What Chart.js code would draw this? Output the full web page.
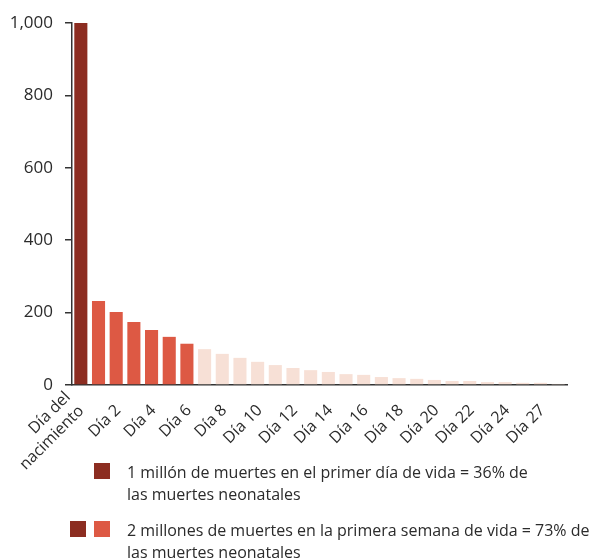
<!DOCTYPE html>
<html>
<head>
<meta charset="utf-8">
<script src="https://cdn.jsdelivr.net/npm/chart.js@4/dist/chart.umd.min.js"></script>
<style>
  html, body { margin: 0; padding: 0; background: #fff; }
  #wrap { position: relative; width: 597px; height: 559px; font-family: "Open Sans", sans-serif; color: #2b2b2b; }
  #c { position: absolute; left: 0; top: 0; }
  .sq { position: absolute; width: 16px; height: 16px; }
  .lt { position: absolute; font-size: 16px; line-height: 22px; white-space: nowrap; }
</style>
</head>
<body>
<div id="wrap">
  <canvas id="c" width="597" height="559"></canvas>
  <div class="sq" style="left:94px;top:463px;background:#8c2d21"></div>
  <div class="lt" style="left:127px;top:461px">1 millón de muertes en el primer día de vida = 36% de<br>las muertes neonatales</div>
  <div class="sq" style="left:70px;top:521px;background:#8c2d21"></div>
  <div class="sq" style="left:94px;top:521px;background:#dd5944"></div>
  <div class="lt" style="left:127px;top:519px">2 millones de muertes en la primera semana de vida = 73% de<br>las muertes neonatales</div>
</div>
<script>
// Categories: day of birth (day 0) through day 27
const categories = ["Día del nacimiento","Día 1","Día 2","Día 3","Día 4","Día 5","Día 6","Día 7","Día 8","Día 9","Día 10","Día 11","Día 12","Día 13","Día 14","Día 15","Día 16","Día 17","Día 18","Día 19","Día 20","Día 21","Día 22","Día 23","Día 24","Día 25","Día 26","Día 27"];
// Neonatal deaths (thousands) per day
const deaths = [1000,232,202,174,152,133,114,99,86,75,64,55,47,41,36,30,28,22,19,17,14,11,11,8,8,6,6,3];
// Group of each bar: 0 = first day, 1 = first week, 2 = rest
const groups = [0,1,1,1,1,1,1,2,2,2,2,2,2,2,2,2,2,2,2,2,2,2,2,2,2,2,2,2];
const groupColors = ["#8c2d21","#dd5944","#f7e0d6"];
// Tick labels as shown on the x axis (one per bar, blank where none)
const tickLabels = [["Día del","nacimiento"],"","Día 2","","Día 4","","Día 6","","Día 8","","Día 10","","Día 12","","Día 14","","Día 16","","Día 18","","Día 20","","Día 22","","Día 24","","Día 27",""];
const yTicks = [0,200,400,600,800,1000];

const axisColor = "#333333";
const textColor = "#2b2b2b";
const xFont = { family: "'Open Sans', sans-serif", size: 16 };
const yFont = { family: "'Open Sans', sans-serif", size: 17 };

new Chart(document.getElementById("c"), {
  type: "bar",
  data: {
    labels: categories,
    datasets: [{
      data: deaths,
      backgroundColor: groups.map(g => groupColors[g]),
      borderWidth: 0,
      barPercentage: 0.74,
      categoryPercentage: 1.0
    }]
  },
  options: {
    responsive: false,
    animation: false,
    layout: { padding: { top: 23, right: 30, bottom: 0, left: 0 } },
    plugins: { legend: { display: false }, tooltip: { enabled: false } },
    scales: {
      x: {
        afterFit: s => { s.height = 174; },
        grid: { display: true, drawOnChartArea: false, drawTicks: false, color: "transparent" },
        border: { display: true, color: axisColor, width: 1.5 },
        ticks: {
          autoSkip: false,
          maxRotation: 45,
          minRotation: 45,
          labelOffset: 2,
          padding: 16,
          color: textColor,
          font: xFont,
          callback: (v, i) => (i === 0 ? "" : tickLabels[i])
        }
      },
      x2: {
        type: "category",
        position: { y: 0 },
        offset: true,
        min: 0,
        max: categories.length - 1,
        grid: { display: false },
        border: { display: false },
        ticks: {
          autoSkip: false,
          maxRotation: 45,
          minRotation: 45,
          labelOffset: -13,
          padding: -5,
          color: textColor,
          font: xFont,
          callback: (v, i) => (i === 0 ? tickLabels[i] : "")
        }
      },
      y: {
        min: 0,
        max: 1000,
        afterFit: s => { s.width = 72; },
        afterBuildTicks: s => { s.ticks = yTicks.map(v => ({ value: v })); },
        grid: { display: true, drawOnChartArea: false, drawTicks: true, tickLength: 7, color: axisColor, lineWidth: 1.5 },
        border: { display: true, color: axisColor, width: 1.5 },
        ticks: {
          padding: 12,
          color: textColor,
          font: yFont,
          callback: v => v.toLocaleString("en-US")
        }
      }
    }
  }
});
</script>
</body>
</html>
